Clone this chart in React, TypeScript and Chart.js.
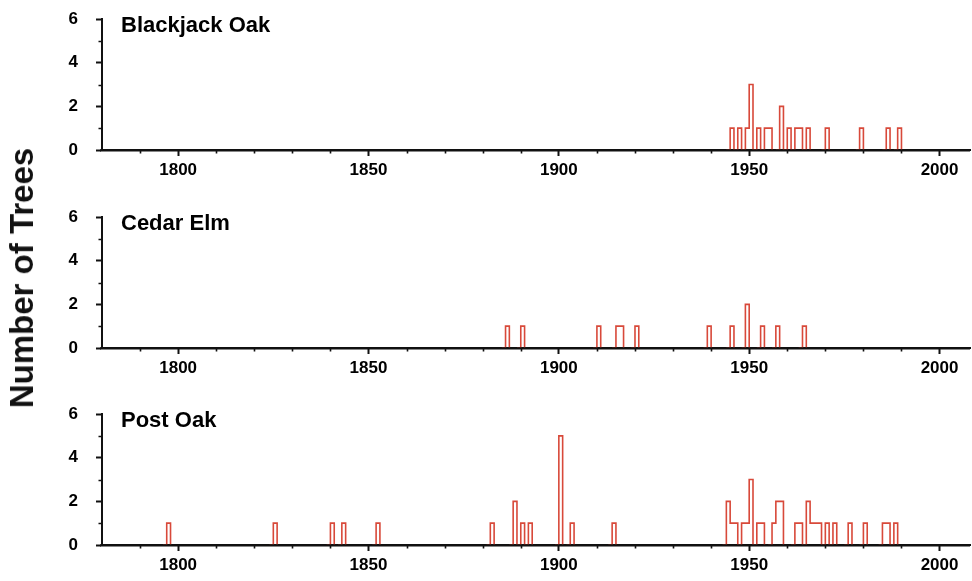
import React, { useEffect, useRef } from 'react';
import { Chart, registerables } from 'chart.js';

Chart.register(...registerables);

// ---------- data ----------
const X_MIN = 1780;
const X_MAX = 2008;
const xMajorTicks = [1800, 1850, 1900, 1950, 2000];
const xMinorTicks = [1790, 1810, 1820, 1830, 1840, 1860, 1870, 1880, 1890, 1910, 1920, 1930, 1940, 1960, 1970, 1980, 1990];
const yTickLabels = [0, 2, 4, 6];
const yMinorTicks = [1, 3, 5];

const blackjackYears = [1945, 1947, 1949, 1950, 1952, 1954, 1955, 1958, 1960, 1962, 1963, 1965, 1970, 1979, 1986, 1989];
const blackjackCounts = [1, 1, 1, 3, 1, 1, 1, 2, 1, 1, 1, 1, 1, 1, 1, 1];

const cedarElmYears = [1886, 1890, 1910, 1915, 1916, 1920, 1939, 1945, 1949, 1953, 1957, 1964];
const cedarElmCounts = [1, 1, 1, 1, 1, 1, 1, 1, 2, 1, 1, 1];

const postOakYears = [1797, 1825, 1840, 1843, 1852, 1882, 1888, 1890, 1892, 1900, 1903, 1914, 1944, 1945, 1946, 1948, 1949, 1950, 1952, 1953, 1956, 1957, 1958, 1962, 1963, 1965, 1966, 1967, 1968, 1970, 1972, 1976, 1980, 1985, 1986, 1988];
const postOakCounts = [1, 1, 1, 1, 1, 1, 2, 1, 1, 5, 1, 1, 2, 1, 1, 1, 1, 3, 1, 1, 1, 2, 2, 1, 1, 2, 1, 1, 1, 1, 1, 1, 1, 1, 1, 1];

const panelTitles = ['Blackjack Oak', 'Cedar Elm', 'Post Oak'];
const yAxisTitle = 'Number of Trees';

// ---------- style ----------
const RED = '#d8493a';
const AXIS = '#111111';
const FONT = '"Liberation Sans", Arial, Helvetica, sans-serif';
const CANVAS_W = 972;
const PAD_TOP = 30;
const PLOT_H = 131;
const X_AXIS_H = 39;
const CANVAS_H = PAD_TOP + PLOT_H + X_AXIS_H;
const plotTops = [19.3, 217.3, 414.3];

function buildSeries(years: number[], counts: number[]) {
  const map = new Map<number, number>();
  years.forEach((y, i) => map.set(y, counts[i]));
  const pts: { x: number; y: number }[] = [];
  for (let yr = X_MIN; yr <= X_MAX; yr++) {
    pts.push({ x: yr, y: map.get(yr) ?? 0 });
  }
  return pts;
}

const decorPlugin = {
  id: 'decor',
  afterDatasetsDraw(chart: any, _args: any, opts: any) {
    const { ctx, chartArea } = chart;
    const xs = chart.scales.x;
    const ys = chart.scales.y;
    ctx.save();
    const y0 = ys.getPixelForValue(0);
    ctx.strokeStyle = AXIS;
    ctx.lineWidth = 2.4;
    ctx.beginPath();
    ctx.moveTo(chartArea.left - 2, y0 + 0.4);
    ctx.lineTo(chartArea.right, y0 + 0.4);
    ctx.stroke();
    ctx.lineWidth = 1.6;
    ctx.beginPath();
    xMinorTicks.forEach((v) => {
      const px = Math.round(xs.getPixelForValue(v)) + 0.5;
      ctx.moveTo(px, y0);
      ctx.lineTo(px, y0 + 3.5);
    });
    yMinorTicks.forEach((v) => {
      const py = Math.round(ys.getPixelForValue(v)) + 0.5;
      ctx.moveTo(chartArea.left, py);
      ctx.lineTo(chartArea.left - 3.5, py);
    });
    ctx.stroke();
    ctx.fillStyle = '#000';
    ctx.font = `bold 22px ${FONT}`;
    ctx.textAlign = 'left';
    ctx.textBaseline = 'alphabetic';
    ctx.fillText(opts.text, chartArea.left + 19, chartArea.top + 12.5);
    ctx.restore();
  },
};

function Panel({ years, counts, title, top }: { years: number[]; counts: number[]; title: string; top: number }) {
  const ref = useRef<HTMLCanvasElement | null>(null);
  useEffect(() => {
    if (!ref.current) return;
    const chart = new Chart(ref.current, {
      type: 'line',
      data: {
        datasets: [
          {
            data: buildSeries(years, counts),
            stepped: 'before',
            borderColor: RED,
            borderWidth: 1.6,
            pointRadius: 0,
            fill: false,
            segment: {
              borderColor: (c: any) => (c.p0.parsed.y === 0 && c.p1.parsed.y === 0 ? 'rgba(0,0,0,0)' : RED),
            },
          } as any,
        ],
      },
      options: {
        animation: false,
        responsive: false,
        layout: { padding: { top: PAD_TOP, right: 2, left: 0, bottom: 0 } },
        plugins: {
          legend: { display: false },
          tooltip: { enabled: false },
          decor: { text: title },
        } as any,
        scales: {
          x: {
            type: 'linear',
            min: X_MIN,
            max: X_MAX,
            afterFit: (s: any) => {
              s.height = X_AXIS_H;
            },
            ticks: {
              stepSize: 10,
              autoSkip: false,
              maxRotation: 0,
              minRotation: 0,
              includeBounds: false,
              padding: 4,
              color: '#000',
              font: { family: FONT, size: 17, weight: 'bold' },
              callback: (v: any) => (xMajorTicks.includes(Number(v)) ? String(v) : ''),
            },
            grid: {
              display: true,
              drawOnChartArea: false,
              drawTicks: true,
              tickLength: 6,
              tickWidth: 2,
              tickColor: (c: any) => (c.tick && xMajorTicks.includes(c.tick.value) ? AXIS : 'rgba(0,0,0,0)'),
            },
            border: { display: true, color: AXIS, width: 2 },
          },
          y: {
            type: 'linear',
            min: 0,
            max: 6,
            afterFit: (s: any) => {
              s.width = 102;
            },
            ticks: {
              stepSize: 1,
              autoSkip: false,
              padding: 18,
              color: '#000',
              font: { family: FONT, size: 17, weight: 'bold' },
              callback: (v: any) => (yTickLabels.includes(Number(v)) ? String(v) : ''),
            },
            grid: {
              display: true,
              drawOnChartArea: false,
              drawTicks: true,
              tickLength: 6,
              tickWidth: 2,
              tickColor: (c: any) => (c.tick && yTickLabels.includes(c.tick.value) ? AXIS : 'rgba(0,0,0,0)'),
            },
            border: { display: true, color: AXIS, width: 2 },
          },
        },
      } as any,
      plugins: [decorPlugin],
    });
    return () => chart.destroy();
  }, []);
  return (
    <canvas
      ref={ref}
      width={CANVAS_W}
      height={CANVAS_H}
      style={{ position: 'absolute', left: 0, top: top, width: CANVAS_W, height: CANVAS_H }}
    />
  );
}

export default function App() {
  const panels = [
    { years: blackjackYears, counts: blackjackCounts },
    { years: cedarElmYears, counts: cedarElmCounts },
    { years: postOakYears, counts: postOakCounts },
  ];
  return (
    <div
      style={{
        position: 'absolute',
        left: 0,
        top: 0,
        width: 972,
        height: 581,
        overflow: 'hidden',
        background: '#fff',
      }}
    >
      {panels.map((p, i) => (
        <Panel key={i} years={p.years} counts={p.counts} title={panelTitles[i]} top={plotTops[i] - PAD_TOP} />
      ))}
      <div
        style={{
          position: 'absolute',
          left: 22,
          top: 278,
          transform: 'translate(-50%, -50%) rotate(-90deg)',
          whiteSpace: 'nowrap',
          font: `bold 33px ${FONT}`,
          color: '#111',
        }}
      >
        {yAxisTitle}
      </div>
    </div>
  );
}
